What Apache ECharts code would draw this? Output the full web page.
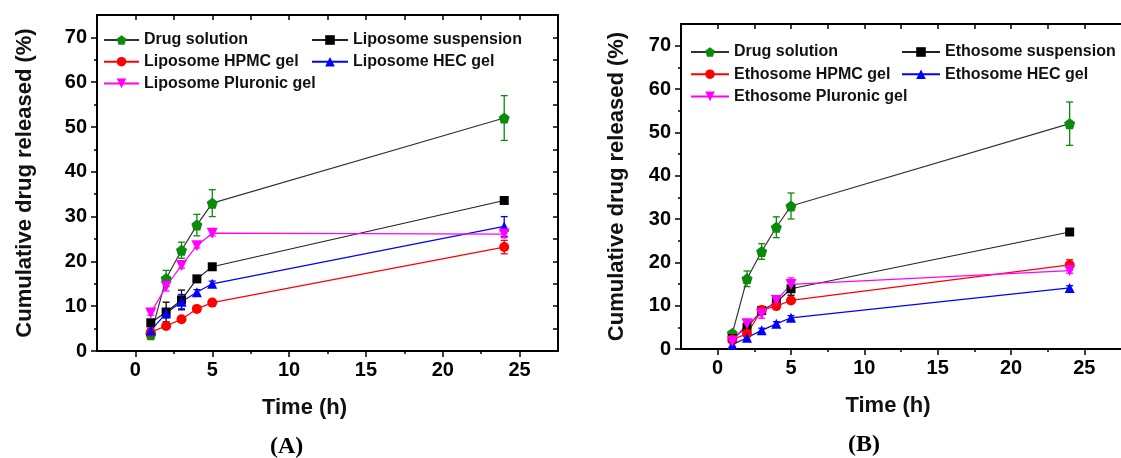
<!DOCTYPE html>
<html><head><meta charset="utf-8">
<script src="https://cdn.jsdelivr.net/npm/echarts@6/dist/echarts.min.js"></script>
<style>html,body{margin:0;padding:0;background:#fff}#c{width:1121px;height:458px}</style>
</head><body><div id="c"></div>
<script>
// ---------- data ----------
const time = [1, 2, 3, 4, 5, 24];
const xTickLabels = [0, 5, 10, 15, 20, 25];
const xMinorTicks = [2.5, 7.5, 12.5, 17.5, 22.5];
const xTopTicks = [0, 2.5, 5, 7.5, 10, 12.5, 15, 17.5, 20, 22.5, 25];
const yTickLabels = [0, 10, 20, 30, 40, 50, 60, 70];
const yMinorTicks = [5, 15, 25, 35, 45, 55, 65];
const yRightTicks = [5, 10, 15, 20, 25, 30, 35, 40, 45, 50, 55, 60, 65, 70];

// Panel A
const drugA = [3.6, 16.2, 22.5, 28.1, 33.0, 52.0];
const drugAErr = [0.6, 1.8, 1.8, 2.4, 3.0, 5.0];
const lipSusp = [6.3, 8.7, 11.4, 16.1, 18.8, 33.6];
const lipSuspErr = [0.5, 2.2, 2.2, 0.5, 0.5, 0.5];
const lipHPMC = [4.2, 5.6, 7.1, 9.4, 10.8, 23.2];
const lipHPMCErr = [0.4, 0.5, 0.5, 0.5, 0.5, 1.5];
const lipHEC = [4.6, 8.4, 11.0, 13.1, 15.0, 27.8];
const lipHECErr = [0.5, 1.0, 1.6, 0.6, 0.6, 2.2];
const lipPlur = [8.5, 14.4, 19.1, 23.5, 26.3, 26.1];
const lipPlurErr = [0.5, 1.0, 0.6, 0.5, 0.6, 0.8];

// Panel B
const drugB = [3.6, 16.2, 22.5, 28.1, 33.0, 52.0];
const drugBErr = [0.6, 1.8, 1.8, 2.4, 3.0, 5.0];
const ethSusp = [2.4, 5.0, 8.9, 10.8, 13.9, 27.0];
const ethSuspErr = [0.5, 1.0, 0.6, 0.6, 1.5, 0.5];
const ethHPMC = [2.2, 3.5, 9.0, 9.9, 11.2, 19.4];
const ethHPMCErr = [0.5, 0.6, 0.6, 0.6, 0.6, 1.2];
const ethHEC = [1.0, 2.6, 4.3, 5.8, 7.2, 14.1];
const ethHECErr = [0.5, 0.5, 0.5, 0.5, 0.5, 0.5];
const ethPlur = [1.8, 5.8, 8.1, 11.2, 14.9, 18.1];
const ethPlurErr = [0.6, 1.0, 1.0, 0.6, 1.5, 0.6];

// ---------- style ----------
const FONT = "'Liberation Sans', Arial, sans-serif";
const PENT = 'path://M0,-10 L9.51,-3.09 L5.88,8.09 L-5.88,8.09 L-9.51,-3.09 Z';
const DOWN = 'path://M-5,-4 L5,-4 L0,5 Z';
const GREEN = '#0b8a0b', BLACK = '#000000', RED = '#ff0000', BLUE = '#0000ff', MAG = '#ff00ff';

const styles = {
  drug: {symbol: PENT, size: 11, color: GREEN, line: '#333333'},
  susp: {symbol: 'rect', size: 9, color: BLACK, line: '#222222'},
  hpmc: {symbol: 'circle', size: 10, color: RED, line: RED},
  hec: {symbol: 'triangle', size: 10, color: BLUE, line: BLUE},
  plur: {symbol: DOWN, size: 11, color: MAG, line: MAG}
};

function pairs(vals) { return time.map((t, i) => [t, vals[i]]); }

function lineSeries(name, vals, st, xi, yi) {
  return {
    type: 'line', name: name, xAxisIndex: xi, yAxisIndex: yi,
    data: pairs(vals), symbol: st.symbol, symbolSize: st.size,
    smooth: false,
    itemStyle: {color: st.color},
    lineStyle: {color: st.line, width: 1.2},
    z: 3, silent: true, animation: false
  };
}

function errSeries(list, xi, yi) {
  const data = [];
  list.forEach((s, k) => {
    time.forEach((t, i) => data.push([t, s[0][i], s[1][i], k]));
  });
  const colors = list.map(s => s[2]);
  return {
    type: 'custom', xAxisIndex: xi, yAxisIndex: yi, silent: true, animation: false, z: 2,
    encode: {x: 0, y: 1},
    data: data,
    renderItem: function (params, api) {
      const x = api.value(0), y = api.value(1), e = api.value(2), c = colors[api.value(3)];
      const top = api.coord([x, y + e]);
      const bot = api.coord([x, y - e]);
      const w = 3.5;
      const st = {stroke: c, lineWidth: 1.3};
      return {type: 'group', children: [
        {type: 'line', shape: {x1: top[0], y1: top[1], x2: bot[0], y2: bot[1]}, style: st},
        {type: 'line', shape: {x1: top[0] - w, y1: top[1], x2: top[0] + w, y2: top[1]}, style: st},
        {type: 'line', shape: {x1: bot[0] - w, y1: bot[1], x2: bot[0] + w, y2: bot[1]}, style: st}
      ]};
    }
  };
}

const axLine = {show: true, onZero: false, lineStyle: {color: '#000', width: 2}};
const tickLs = {color: '#000', width: 1.5};
const lblStyle = {fontFamily: FONT, fontSize: 20, fontWeight: 'bold', color: '#000'};
const nameStyle = {fontFamily: FONT, fontSize: 22, fontWeight: 'bold', color: '#111'};

function xAxesFor(g, namePad) {
  const base = {type: 'value', gridIndex: g, min: -2.5, max: 27.5, splitLine: {show: false}};
  return [
    Object.assign({}, base, {
      position: 'bottom', axisLine: axLine,
      axisTick: {show: true, inside: false, length: 6, customValues: xTickLabels, lineStyle: tickLs},
      axisLabel: Object.assign({customValues: xTickLabels, margin: 9}, lblStyle),
      name: 'Time (h)', nameLocation: 'middle', nameGap: 46,
      nameTextStyle: Object.assign({padding: [0, namePad, 0, 0]}, nameStyle)
    }),
    Object.assign({}, base, {
      position: 'bottom', axisLine: {show: false, onZero: false},
      axisTick: {show: true, inside: false, length: 3, customValues: xMinorTicks, lineStyle: tickLs},
      axisLabel: {show: false}
    }),
    Object.assign({}, base, {
      position: 'top', axisLine: axLine,
      axisTick: {show: true, inside: true, length: 5, customValues: xTopTicks, lineStyle: tickLs},
      axisLabel: {show: false}
    })
  ];
}

function yAxesFor(g, gap, withRight) {
  const base = {type: 'value', gridIndex: g, min: 0, max: 75, splitLine: {show: false}};
  const arr = [
    Object.assign({}, base, {
      position: 'left', axisLine: axLine,
      axisTick: {show: true, inside: false, length: 6, customValues: yTickLabels, lineStyle: tickLs},
      axisLabel: Object.assign({customValues: yTickLabels, margin: 10}, lblStyle),
      name: 'Cumulative drug released (%)', nameLocation: 'middle', nameGap: gap,
      nameTextStyle: nameStyle
    }),
    Object.assign({}, base, {
      position: 'left', axisLine: {show: false, onZero: false},
      axisTick: {show: true, inside: false, length: 3, customValues: yMinorTicks, lineStyle: tickLs},
      axisLabel: {show: false}
    })
  ];
  if (withRight) {
    arr.push(Object.assign({}, base, {
      position: 'right', axisLine: axLine,
      axisTick: {show: true, inside: true, length: 5, customValues: yRightTicks, lineStyle: tickLs},
      axisLabel: {show: false}
    }));
  }
  return arr;
}

const xAxes = xAxesFor(0, 46).concat(xAxesFor(1, 26));
const yAxes = yAxesFor(0, 61, true).concat(yAxesFor(1, 53, false));

const series = [
  errSeries([[drugA, drugAErr, GREEN], [lipSusp, lipSuspErr, BLACK], [lipHPMC, lipHPMCErr, RED],
             [lipHEC, lipHECErr, BLUE], [lipPlur, lipPlurErr, MAG]], 0, 0),
  lineSeries('Drug solution', drugA, styles.drug, 0, 0),
  lineSeries('Liposome suspension', lipSusp, styles.susp, 0, 0),
  lineSeries('Liposome HPMC gel', lipHPMC, styles.hpmc, 0, 0),
  lineSeries('Liposome HEC gel', lipHEC, styles.hec, 0, 0),
  lineSeries('Liposome Pluronic gel', lipPlur, styles.plur, 0, 0),
  errSeries([[drugB, drugBErr, GREEN], [ethSusp, ethSuspErr, BLACK], [ethHPMC, ethHPMCErr, RED],
             [ethHEC, ethHECErr, BLUE], [ethPlur, ethPlurErr, MAG]], 3, 3),
  lineSeries('Drug solution', drugB, styles.drug, 3, 3),
  lineSeries('Ethosome suspension', ethSusp, styles.susp, 3, 3),
  lineSeries('Ethosome HPMC gel', ethHPMC, styles.hpmc, 3, 3),
  lineSeries('Ethosome HEC gel', ethHEC, styles.hec, 3, 3),
  lineSeries('Ethosome Pluronic gel', ethPlur, styles.plur, 3, 3)
];

const legTxt = {fontFamily: FONT, fontSize: 16, fontWeight: 'bold', color: '#111', lineHeight: 18};
function legend(left, top, w, gap, names) {
  return {left: left, top: top, orient: 'vertical', padding: 0, itemWidth: w, itemHeight: 12,
    itemGap: gap, selectedMode: false, textStyle: legTxt, data: names, inactiveColor: '#111'};
}

const option = {
  animation: false,
  backgroundColor: '#fff',
  grid: [
    {left: 97, top: 15, width: 461, height: 336},
    {left: 681, top: 24, width: 453, height: 325}
  ],
  xAxis: xAxes,
  yAxis: yAxes,
  legend: [
    legend(103, 31, 35, 3.7, ['Drug solution', 'Liposome HPMC gel', 'Liposome Pluronic gel']),
    legend(311, 31, 36, 3.7, ['Liposome suspension', 'Liposome HEC gel']),
    legend(690, 43, 38, 4.2, ['Drug solution', 'Ethosome HPMC gel', 'Ethosome Pluronic gel']),
    legend(901, 43, 38, 4.2, ['Ethosome suspension', 'Ethosome HEC gel'])
  ],
  graphic: [
    {type: 'text', left: 270, top: 435, style: {text: '(A)', font: 'bold 24px "Liberation Serif", "Times New Roman", serif', fill: '#000'}},
    {type: 'text', left: 848, top: 433, style: {text: '(B)', font: 'bold 24px "Liberation Serif", "Times New Roman", serif', fill: '#000'}}
  ],
  series: series
};

const chart = echarts.init(document.getElementById('c'), null, {renderer: 'canvas'});
chart.setOption(option);
</script>
</body></html>
